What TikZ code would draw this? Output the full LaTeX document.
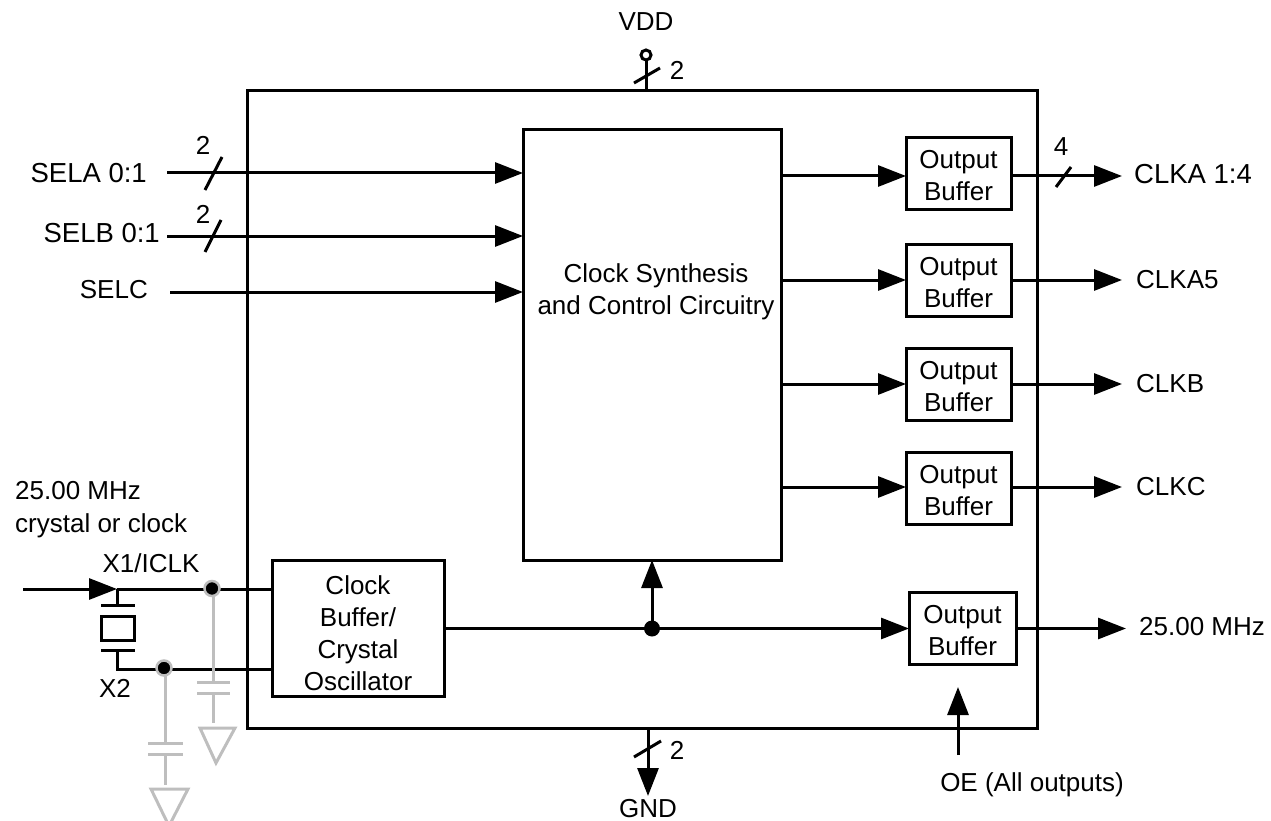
\documentclass[tikz,border=0pt]{standalone}
\usepackage{fontspec}
\setmainfont{Liberation Sans}
\usetikzlibrary{arrows.meta}
\definecolor{capgrey}{RGB}{190,190,190}
\newcommand{\lbl}{\fontsize{26}{32}\selectfont}
\newcommand{\lblwide}{\fontsize{27.5}{32}\selectfont}
\tikzset{
  x=1pt,y=-1pt,
  wire/.style={line width=3pt,draw=black},
  sig/.style={wire,-{Triangle[length=28pt,width=21pt]}},
  slashmark/.style={line width=3pt,draw=black},
  blk/.style={draw=black,line width=3pt,fill=white,inner sep=0pt,outer sep=0pt},
  lbl/.style={inner sep=0pt,align=center,font=\lbl},
  widelbl/.style={inner sep=0pt,font=\lblwide},
  outbuf/.style={blk,minimum width=105pt,minimum height=72pt},
  gwire/.style={line width=3pt,draw=capgrey},
  junction/.style={circle,fill=black,draw=capgrey,line width=2.5pt,minimum size=15pt,inner sep=0pt},
  gtri/.style={line width=3pt,draw=capgrey,line join=miter}
}
\begin{document}
\begin{tikzpicture}
\useasboundingbox (0,0) rectangle (1271,821);
% blocks
\node[draw=black,line width=3pt,minimum width=790pt,minimum height=637pt,inner sep=0pt,outer sep=0pt] (chip) at (642,409.5) {};
\node[blk,minimum width=258pt,minimum height=430pt] (core) at (652,345) {};
\node[lbl] (coretext) at (656,292) {Clock Synthesis\\and Control Circuitry};
\node[outbuf] (b1) at (958.5,174) {};
\node[outbuf] (b2) at (958.5,280.5) {};
\node[outbuf] (b3) at (958.5,384.5) {};
\node[outbuf] (b4) at (958.5,488.5) {};
\node[outbuf,minimum width=107pt] (b5) at (962.5,628.5) {};
\foreach \b in {b1,b2,b3,b4,b5}{
  \node[lbl] (\b text) at ([yshift=-2pt]\b.center) {Output\\Buffer};
}
\node[blk,minimum width=172pt,minimum height=136pt] (osc) at (358,628) {};
\node[lbl] (osctext) at ([yshift=-5pt]osc.center) {Clock\\Buffer/\\Crystal\\Oscillator};
% labels
\node[widelbl,anchor=east] (sela) at (147,173) {SELA 0:1};
\node[widelbl,anchor=east] (selb) at (160,233) {SELB 0:1};
\node[lbl,anchor=east] (selc) at (148,290) {SELC};
\node[widelbl,anchor=west] (clka) at (1134,174) {CLKA 1:4};
\node[lbl,anchor=west] (clka5) at (1136,280) {CLKA5};
\node[lbl,anchor=west] (clkb) at (1136,384) {CLKB};
\node[lbl,anchor=west] (clkc) at (1136,487) {CLKC};
\node[lbl,anchor=west] (mhz) at (1139,627) {25.00 MHz};
\node[lbl,anchor=west,align=left] (xtal) at (15,510) {25.00 MHz\\[1pt]crystal or clock};
\node[lbl] (x1) at (151,563) {X1/ICLK};
\node[lbl] (x2) at (115,688) {X2};
\node[lbl] (vdd) at (646,22) {VDD};
\node[lbl] (gnd) at (648,808.5) {GND};
\node[lbl] (oe) at (1032,785) {OE (All outputs)};
\node[lbl] (n2a) at (203,145) {2};
\node[lbl] (n2b) at (203,214) {2};
\node[lbl] (n4) at (1061,147) {4};
\node[lbl] (n2v) at (677,70) {2};
\node[lbl] (n2g) at (677,750) {2};
% coordinates
\coordinate (sa) at (167,173);
\coordinate (sb) at (167,236);
\coordinate (sc) at (170,292);
\coordinate (y1) at (0,176);
\coordinate (y2) at (0,280);
\coordinate (y3) at (0,384);
\coordinate (y4) at (0,487);
\coordinate (y5) at (0,628.5);
\coordinate (in) at (23,589);
\coordinate (xt) at (117,589);
\coordinate (xb) at (117,669);
\coordinate (j1) at (652,628.5);
\coordinate (vddring) at (646,55);
\coordinate (oetail) at (958,755);
\coordinate (oetip) at (958,687);
\coordinate (gndtip) at (648,796);
% input signals
\draw[sig] (sa) -- (core.west |- sa);
\draw[sig] (sb) -- (core.west |- sb);
\draw[sig] (sc) -- (core.west |- sc);
\draw[slashmark] (205,190) -- (222,157);
\draw[slashmark] (205,252) -- (221,220);
% outputs
\foreach \b/\r in {b1/y1,b2/y2,b3/y3,b4/y4}{
  \draw[sig] (core.east |- \r) -- (\b.west |- \r);
  \draw[sig] (\b.east |- \r) -- (1122,0 |- \r);
}
\draw[sig] (b5.east |- y5) -- (1126,0 |- y5);
\draw[slashmark] (1056,187) -- (1071,167);
% oscillator
\draw[sig] (osc.east |- j1) -- (b5.west |- j1);
\draw[sig] (j1) -- (core.south -| j1);
\fill[black] (j1) circle[radius=8pt];
\draw[sig] (oetail) -- (oetip);
% VDD GND
\draw[wire] (vddring) ++(0,5) -- (chip.north -| vddring);
\draw[wire,fill=white] (vddring) circle[radius=5pt];
\draw[slashmark] (634,83) -- (660,68);
\draw[sig] (chip.south -| gndtip) -- (gndtip);
\draw[slashmark] (634,757) -- (661,741);
% crystal
\draw[sig] (in) -- (xt);
\draw[wire] (xt) -- (osc.west |- xt);
\draw[wire] (xt) -- (117,605);
\draw[wire] (101,605) -- (135,605);
\draw[wire] (101,616) rectangle (134,640);
\draw[wire] (101,650) -- (135,650);
\draw[wire] (117,650) -- (xb) -- (osc.west |- xb);
% grey caps
\draw[gwire] (213,589) -- (213,682);
\draw[gwire] (197,682) -- (230,682);
\draw[gwire] (197,693) -- (230,693);
\draw[gwire] (213,693) -- (213,723);
\draw[gtri] (200,728) -- (235,728) -- (216,763) -- cycle;
\draw[gwire] (165,669) -- (165,743);
\draw[gwire] (148,743) -- (183,743);
\draw[gwire] (148,754) -- (183,754);
\draw[gwire] (165,754) -- (165,785);
\draw[gtri] (151,789) -- (188,789) -- (169,826) -- cycle;
\node[junction] (d1) at (212,588.5) {};
\node[junction] (d2) at (164,668) {};
\end{tikzpicture}
\end{document}
